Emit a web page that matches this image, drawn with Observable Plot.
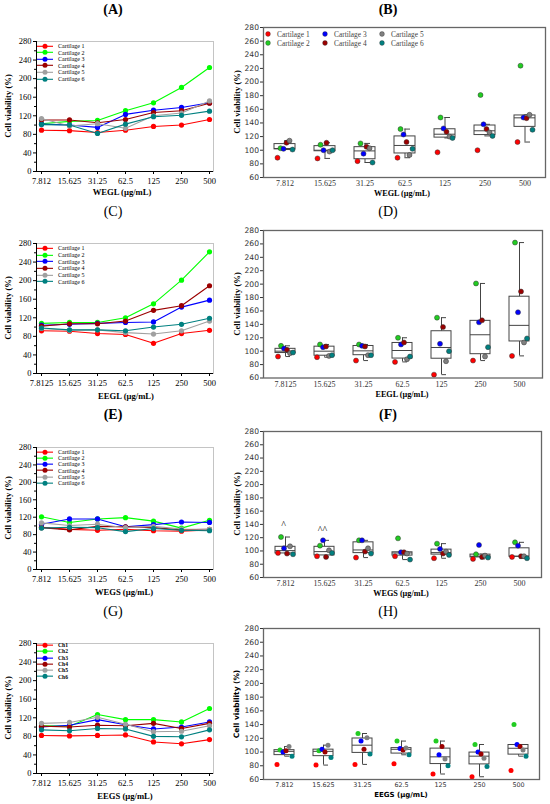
<!DOCTYPE html>
<html><head><meta charset="utf-8">
<script src="https://cdn.jsdelivr.net/npm/d3@7"></script>
<script src="https://cdn.jsdelivr.net/npm/@observablehq/plot@0.6"></script>
<style>
body{margin:0;background:#fff;}
#fig{position:relative;width:550px;height:804px;overflow:hidden;background:#fff;}
.panel{position:absolute;}
.txt{position:absolute;white-space:nowrap;transform:translate(-50%,-50%);line-height:1;color:#000;}
.leg{position:absolute;font-family:"Liberation Serif";}
.leg .row{display:flex;align-items:center;height:6.6px;}
.leg svg{display:block;}
</style>
</head><body><div id="fig"></div>
<script>
// ---------- data ----------
const concWEGL = ["7.812","15.625","31.25","62.5","125","250","500"];
const concEEGL = ["7.8125","15.625","31.25","62.5","125","250","500"];
const concWEGS = ["7.812","15.625","31.25","62.5","125","250","500"];
const concEEGS = ["7.812","15.625","31.25","62.5","125","250","500"];
const cartilageNames = ["Cartilage 1","Cartilage 2","Cartilage 3","Cartilage 4","Cartilage 5","Cartilage 6"];
const chNames = ["Ch1","Ch2","Ch3","Ch4","Ch5","Ch6"];
const lineColors = ["#ff0000","#00ff00","#0000ff","#9b0000","#a0a0a0","#008080"];
const dotColors = ["#ff0000","#22cc22","#0000ff","#9b0000","#808080","#008080"];
// cell viability (%) per cartilage (rows) and concentration (columns)
const weglViability = [
  [89, 88, 84, 89, 97, 100, 112],
  [103, 108, 110, 131, 148, 181, 224],
  [102, 100, 95, 123, 132, 138, 148],
  [111, 111, 105, 112, 127, 131, 147],
  [114, 98, 103, 93, 120, 126, 152],
  [101, 100, 82, 102, 118, 121, 130]
];
const eeglViability = [
  [92, 91, 86, 84, 65, 86, 93],
  [108, 110, 110, 120, 150, 201, 262],
  [104, 106, 108, 110, 111, 143, 158],
  [102, 107, 107, 113, 136, 146, 189],
  [97, 93, 94, 88, 85, 92, 113],
  [98, 94, 94, 92, 100, 106, 119]
];
const wegsViability = [
  [97, 92, 90, 92, 89, 88, 91],
  [121, 108, 116, 119, 111, 95, 113],
  [104, 116, 116, 98, 103, 109, 108],
  [96, 91, 99, 98, 96, 91, 92],
  [107, 101, 104, 96, 99, 93, 92],
  [95, 97, 96, 87, 94, 90, 89]
];
const eegsViability = [
  [82, 81, 82, 83, 68, 64, 73],
  [103, 102, 127, 116, 116, 111, 140],
  [100, 104, 116, 105, 96, 100, 111],
  [102, 100, 104, 103, 108, 97, 108],
  [108, 110, 121, 106, 90, 91, 103],
  [94, 92, 97, 96, 80, 79, 94]
];
const wegsMarkConc = ["7.812","15.625"];
const wegsMarkY = [139, 132];
const wegsMarkText = ["^","^^"];

// ---------- helpers ----------
const fig = document.getElementById("fig");
function tidy(conc, values){
  return values.flatMap((row,i)=>row.map((v,j)=>({conc:conc[j], v, s:i})));
}
function addText(str, x, y, css){
  const d = document.createElement("div");
  d.className = "txt";
  d.textContent = str;
  d.style.left = x+"px"; d.style.top = y+"px";
  Object.assign(d.style, css||{});
  fig.appendChild(d);
  return d;
}
function addPanel(svg, left, top){
  const d = document.createElement("div");
  d.className = "panel";
  d.style.left = left+"px"; d.style.top = top+"px";
  d.appendChild(svg);
  fig.appendChild(d);
}
function lineLegend(names, left, top, rowH, bold){
  const d = document.createElement("div");
  d.className = "leg";
  d.style.left = left+"px"; d.style.top = top+"px";
  names.forEach((n,i)=>{
    const r = document.createElement("div");
    r.className = "row"; r.style.height = rowH+"px";
    r.innerHTML = `<svg width="17" height="${rowH}"><line x1="0" x2="16" y1="${rowH/2}" y2="${rowH/2}" stroke="${lineColors[i]}" stroke-width="1.1"/><circle cx="8" cy="${rowH/2}" r="2.5" fill="${lineColors[i]}"/></svg><span style="margin-left:4px;font-size:${bold?5.6:6}px;${bold?'font-weight:bold;':''}">${n}</span>`;
    d.appendChild(r);
  });
  fig.appendChild(d);
}

function linePanel(o){
  const data = tidy(o.conc, o.values);
  const svg = Plot.plot({
    width: 232, height: o.h,
    marginLeft: 36, marginRight: 19, marginTop: o.mt, marginBottom: o.mb,
    x: {type:"point", domain:o.conc, padding:0.1},
    y: {domain:[0,280]},
    color: {type:"ordinal", domain:d3.range(6), range:lineColors},
    style: {fontFamily:"Liberation Serif", fontSize:"8.5px", color:"#000", background:"transparent", overflow:"visible"},
    marks: [
      Plot.frame({stroke:"#c4c4c4"}),
      Plot.axisY({ticks:d3.range(0,281,40), tickSize:3, tickPadding:2, label:null, fontSize:8.5}),
      Plot.axisY({ticks:d3.range(20,281,40), tickSize:2, tickFormat:()=>"", label:null}),
      Plot.axisX({tickSize:3, tickPadding:3, label:null, fontSize:8.5}),
      Plot.ruleY([0], {stroke:"#000"}),
      Plot.frame({anchor:"left", stroke:"#000"}),
      Plot.line(data, {x:"conc", y:"v", z:"s", stroke:"s", strokeWidth:1.1}),
      Plot.dot(data, {x:"conc", y:"v", fill:"s", r:2.6})
    ]
  });
  addPanel(svg, 0, o.top);
}

function boxPanel(o){
  const data = tidy(o.conc, o.values);
  const stats = o.conc.map((c,j)=>{
    const vals = o.values.map(r=>r[j]).sort(d3.ascending);
    const q1 = d3.quantileSorted(vals,0.25), med = d3.quantileSorted(vals,0.5), q3 = d3.quantileSorted(vals,0.75);
    const iqr = q3-q1;
    const lo = d3.min(vals.filter(v=>v>=q1-1.5*iqr));
    const hi = d3.max(vals.filter(v=>v<=q3+1.5*iqr));
    return {conc:c, q1, med, q3, lo, hi};
  });
  const sans = o.sans;
  const dots = d3.range(6).map(i=>Plot.dot(data.filter(d=>d.s===i), {
    x:"conc", y:"v", fill:dotColors[i], r:2.5, dx:(i-2.5)*3,
    stroke: sans ? "none" : "#333", strokeWidth:0.5
  }));
  const boxStroke = "#444";
  const marks = [
    Plot.axisY({ticks:d3.range(60,281,20), tickSize:3, tickPadding:1.5, label:null, fontFamily:"DejaVu Sans", fontSize:7.6}),
    Plot.axisX({tickSize:0, tickPadding:3, label:null, fontFamily: sans ? "DejaVu Sans" : "Liberation Serif", fontSize: sans ? 6.4 : 8}),
    Plot.ruleX(stats, {x:"conc", y1:"q3", y2:"hi", stroke:boxStroke}),
    Plot.ruleX(stats, {x:"conc", y1:"lo", y2:"q1", stroke:boxStroke}),
    Plot.tickY(stats, {x:"conc", y:"hi", insetLeft:10.4, insetRight:5, stroke:boxStroke}),
    Plot.tickY(stats, {x:"conc", y:"lo", insetLeft:10.4, insetRight:5, stroke:boxStroke}),
    Plot.barY(stats, {x:"conc", y1:"q1", y2:"q3", fill:"white", stroke:boxStroke, strokeWidth:1}),
    Plot.tickY(stats, {x:"conc", y:"med", stroke:boxStroke}),
    ...dots,
    Plot.frame({stroke:"#666", strokeWidth:1.3})
  ];
  if (o.extra) marks.push(o.extra);
  const svg = Plot.plot({
    width: 318, height: o.h,
    marginLeft: 31, marginRight: o.mr, marginTop: o.mt, marginBottom: o.mb,
    x: {type:"band", domain:o.conc, paddingInner:0.48, paddingOuter:0.24},
    y: {domain:[60,280]},
    style: {fontFamily:"Liberation Serif", fontSize:"8px", color:"#333", background:"transparent", overflow:"visible"},
    marks
  });
  addPanel(svg, 232, o.top);
}

// ---------- panels ----------
linePanel({conc:concWEGL, values:weglViability, top:0, h:200, mt:41, mb:29});
linePanel({conc:concEEGL, values:eeglViability, top:200, h:200, mt:43, mb:27});
linePanel({conc:concWEGS, values:wegsViability, top:400, h:200, mt:47, mb:31});
linePanel({conc:concEEGS, values:eegsViability, top:600, h:204, mt:43, mb:31});

boxPanel({conc:concWEGL, values:weglViability, top:0, h:200, mt:27, mb:23, mr:5});
boxPanel({conc:concEEGL, values:eeglViability, top:200, h:200, mt:30, mb:22.5, mr:8});
boxPanel({conc:concWEGS, values:wegsViability, top:400, h:200, mt:31, mb:23, mr:9,
  extra: Plot.text(wegsMarkConc.map((c,i)=>({conc:c, y:wegsMarkY[i], t:wegsMarkText[i]})),
    {x:"conc", y:"y", text:"t", fontSize:10, fontFamily:"Liberation Serif", fill:"#000", dx:-2})});
boxPanel({conc:concEEGS, values:eegsViability, top:600, h:204, mt:28, mb:25, mr:11, sans:true});

// ---------- titles and axis labels ----------
const serif = {fontFamily:"Liberation Serif"};
const ttl = (s,x,y,b)=>addText(s,x,y,{...serif, fontSize:"14px", fontWeight:b?"bold":"normal"});
ttl("(A)",113,10,true); ttl("(B)",388,10,true);
ttl("(C)",113,212,false); ttl("(D)",388,212,false);
ttl("(E)",113,415,true); ttl("(F)",388,415,true);
ttl("(G)",113,612,false); ttl("(H)",388,612,false);

const xl = (s,x,y,f,fs)=>addText(s,x,y,{fontFamily:f||"Liberation Serif", fontSize:(fs||8.6)+"px", fontWeight:"bold"});
xl("WEGL (µg/mL)",122,192); xl("EEGL (µg/mL)",126,396); xl("WEGS (µg/mL)",124,592); xl("EEGS (µg/mL)",125,796);
xl("WEGL (µg/mL)",402,194,null,8.2); xl("EEGL (µg/mL)",402,394.5,null,8.2); xl("WEGS (µg/mL)",401,593.5,null,8.2);
addText("EEGS (µg/mL)",401,795,{fontFamily:"DejaVu Sans", fontSize:"7px", fontWeight:"bold"});

const yl = (x,y,f,fs)=>addText("Cell viability (%)",x,y,{fontFamily:f||"Liberation Serif", fontSize:(fs||8.6)+"px", fontWeight:"bold", transform:"translate(-50%,-50%) rotate(-90deg)"});
yl(8,106); yl(8,308); yl(8,508); yl(8,708);
yl(237,102); yl(237,304); yl(237,504); yl(237,704,"DejaVu Sans",7.4);

// ---------- legends ----------
lineLegend(cartilageNames, 37, 42.7, 6.6, false);
lineLegend(cartilageNames, 37, 245, 6.7, false);
lineLegend(cartilageNames, 37, 448.5, 6.3, false);
lineLegend(chNames, 37, 642, 6.3, true);

// legend inside (B)
(function(){
  const d = document.createElement("div");
  d.style.cssText = "position:absolute;left:265px;top:29.5px;display:grid;grid-template-columns:57px 57px 57px;grid-auto-flow:column;grid-template-rows:9px 9px;font-family:'Liberation Serif';font-size:7.4px;color:#444;";
  cartilageNames.forEach((n,i)=>{
    const c = document.createElement("div");
    c.style.cssText = "display:flex;align-items:center;height:9px;";
    c.innerHTML = `<svg width="6" height="6" style="display:block"><circle cx="3" cy="3" r="2.4" fill="${dotColors[i]}" stroke="#333" stroke-width="0.4"/></svg><span style="margin-left:6px">${n}</span>`;
    d.appendChild(c);
  });
  fig.appendChild(d);
})();
</script>
</body></html>
